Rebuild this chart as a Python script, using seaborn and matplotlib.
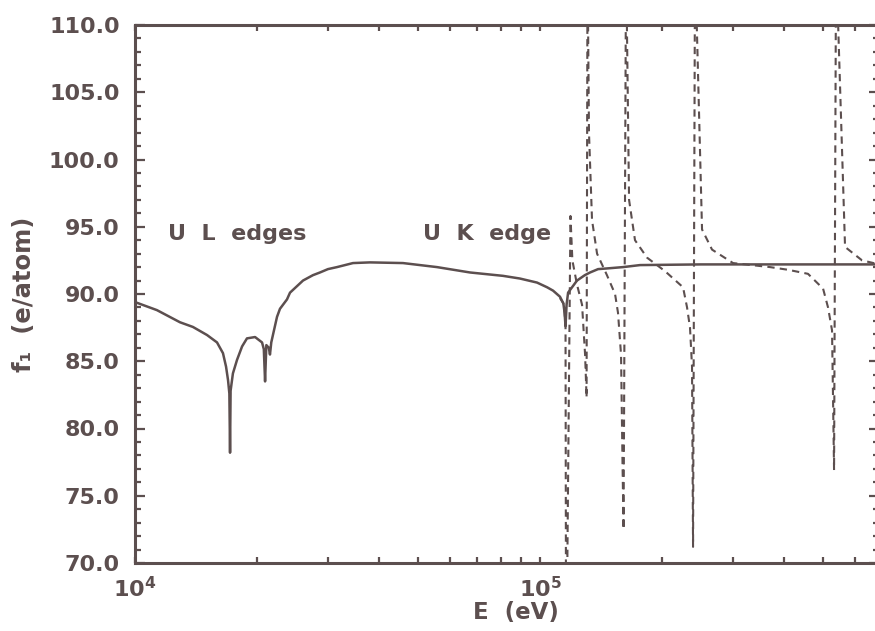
import numpy as np
import pandas as pd
import matplotlib
matplotlib.use("Agg")
import matplotlib.pyplot as plt
import seaborn as sns
from matplotlib.ticker import LogLocator, MultipleLocator, FuncFormatter, NullFormatter, FormatStrFormatter

# f1 of uranium vs photon energy
energy_solid = [10000, 11330, 12910, 13900, 15060, 15940, 16490, 16780, 16970, 17100,
                17166, 17220, 17360, 17450, 17860, 18380, 18900, 19790, 20590, 20800,
                20948, 21100, 21400, 21540, 21700, 22000, 22420, 22800, 23730, 24140,
                25990, 27500, 28620, 29950, 31530, 33000, 34530, 38040, 45880, 55670,
                67180, 81000, 89200, 98300, 104100, 107700, 112000, 114200, 115000, 115606,
                116300, 117300, 123400, 129000, 132900, 139100, 146300, 160300, 176600, 250000,
                400000, 720000]
f1_solid = [89.4, 88.8, 87.9, 87.55, 86.95, 86.4, 85.6, 84.6, 83.6, 82.6,
            78.2, 82.8, 83.6, 84.1, 85.1, 86.1, 86.7, 86.8, 86.4, 85.9,
            83.5, 86.2, 86.0, 85.5, 86.4, 87.2, 88.3, 88.9, 89.6, 90.1,
            91.0, 91.4, 91.6, 91.85, 92.0, 92.15, 92.3, 92.35, 92.3, 92.0,
            91.6, 91.35, 91.15, 90.85, 90.5, 90.25, 89.8, 89.3, 88.6, 87.6,
            89.2, 90.1, 91.0, 91.4, 91.6, 91.85, 91.9, 92.0, 92.15, 92.2,
            92.2, 92.2]

# dashed curve (off-scale readings clipped by the axes)
energy_dash = [112000, 114200, 115000, 115606, 116000, 118900, 120200, 123400, 127000, 129200,
               130300, 131000, 132100, 134400, 138300, 146300, 153200, 155800, 158500, 159900,
               160800, 163100, 165900, 171600, 183800, 203500, 225500, 230700, 234600, 237300,
               238700, 241400, 251200, 265900, 299600, 369800, 409700, 458800, 499900, 514200,
               526000, 529100, 532100, 538200, 566400, 623900, 711000]
f1_dash = [89.7, 89.3, 88.6, 87.6, 60.0, 95.8, 92.5, 90.7, 89.2, 85.5,
           82.3, 115.0, 102.0, 95.5, 93.0, 91.4, 90.0, 88.6, 85.5, 77.1,
           72.5, 115.0, 97.0, 94.0, 92.7, 91.7, 90.5, 89.0, 87.5, 84.6,
           71.2, 115.0, 94.8, 93.3, 92.3, 92.0, 91.8, 91.5, 90.4, 89.0,
           87.3, 82.1, 76.9, 115.0, 93.5, 92.5, 92.1]

y_limits = (70, 110)
x_limits = (1e4, 6.87e5)

ink = "#5c4f4f"

sns.set_theme(style="ticks")
plt.rcParams["font.family"] = ["DejaVu Sans"]
plt.rcParams["font.weight"] = "bold"
plt.rcParams["mathtext.fontset"] = "dejavusans"
for key in ["text.color", "axes.labelcolor", "xtick.color", "ytick.color", "axes.edgecolor"]:
    plt.rcParams[key] = ink

solid = pd.DataFrame({"E": energy_solid, "f1": f1_solid})
dash = pd.DataFrame({"E": energy_dash, "f1": f1_dash})

fig = plt.figure(figsize=(8.75, 6.31), dpi=100)
ax = fig.add_axes([135 / 875, (631 - 563) / 631, 744 / 875, 538 / 631])

sns.lineplot(data=solid, x="E", y="f1", ax=ax, color=ink, lw=1.8,
             estimator=None, sort=False)
sns.lineplot(data=dash, x="E", y="f1", ax=ax, color=ink, lw=1.5,
             linestyle=(0, (3.5, 2.5)), estimator=None, sort=False)

ax.set_xscale("log")
ax.set_xlim(*x_limits)
ax.set_ylim(*y_limits)

ax.xaxis.set_major_locator(LogLocator(base=10))
ax.xaxis.set_minor_locator(LogLocator(base=10, subs=np.arange(2, 10)))
ax.xaxis.set_major_formatter(FuncFormatter(lambda v, p: r"$\mathbf{10^{%d}}$" % round(np.log10(v))))
ax.xaxis.set_minor_formatter(NullFormatter())
ax.yaxis.set_major_locator(MultipleLocator(5))
ax.yaxis.set_minor_locator(MultipleLocator(1))
ax.yaxis.set_major_formatter(FormatStrFormatter("%.1f"))

ax.tick_params(which="both", direction="in", top=True, right=True, width=1.6,
               labelsize=16)
ax.tick_params(axis="y", which="major", length=7, pad=11)
ax.tick_params(axis="y", which="minor", length=4)
ax.tick_params(axis="x", which="both", length=4, pad=9)
for sp in ax.spines.values():
    sp.set_linewidth(2.2)
    sp.set_color(ink)

ax.set_xlabel("E  (eV)", fontsize=16.5, fontweight="bold")
ax.xaxis.set_label_coords(0.512, -0.07)
ax.set_ylabel("f\u2081  (e/atom)", fontsize=17.5, fontweight="bold")
ax.yaxis.set_label_coords(-0.133, 0.5)

ax.text(1.206e4, 94.46, "U  L  edges", fontsize=16, fontweight="bold", va="center")
ax.text(5.15e4, 94.46, "U  K  edge", fontsize=16, fontweight="bold", va="center")

fig.savefig("out.png", dpi=100)
